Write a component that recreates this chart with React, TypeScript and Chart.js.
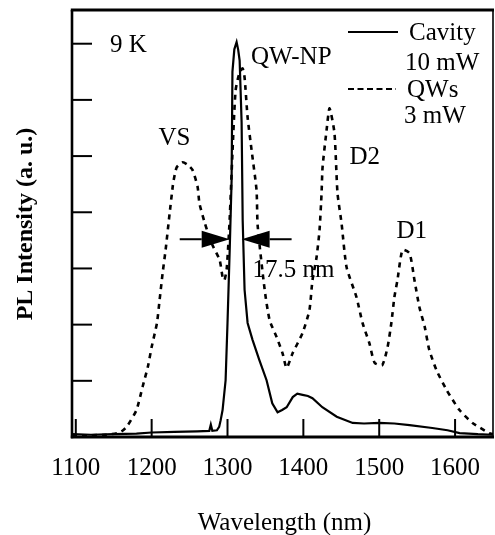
import React, { useEffect, useRef } from "react";
import { Chart, registerables } from "chart.js";

Chart.register(...registerables);

// ---- data (wavelength in nm, PL intensity in arbitrary units) ----
const cavityWavelength = [
  1095, 1120, 1150, 1180, 1200, 1230, 1260, 1276, 1278, 1280, 1286, 1289, 1291,
  1293.5, 1297.5, 1300, 1303, 1305.4, 1306.5, 1309, 1312, 1314, 1316, 1318.6,
  1320, 1322.5, 1326.5, 1333, 1342, 1351.5, 1359, 1366, 1372, 1378, 1386, 1392,
  1399, 1406, 1412, 1425, 1444, 1465, 1480, 1500, 1520, 1540, 1570, 1590, 1606,
  1630, 1649,
];
const cavityPL = [
  5, 4, 5, 6, 8, 9, 10, 11, 22, 11, 12, 18, 30,
  48, 101, 203, 338, 457, 650, 690, 703, 690, 670, 560,
  386, 262, 203, 173, 137, 101, 60, 44, 48, 53, 71, 77,
  75, 73, 69, 53, 36, 25, 24, 25, 24, 21, 16, 12, 7,
  5, 4,
];

const qwWavelength = [
  1095, 1120, 1140, 1158, 1167, 1180, 1188, 1195, 1200, 1207, 1210.5, 1214.5,
  1218.4, 1223.7, 1227.7, 1229, 1233, 1241, 1248, 1254, 1260.6, 1263, 1270, 1279,
  1289.6, 1293.5, 1296, 1299, 1302.8, 1306.7, 1310.7, 1315.9, 1319.9, 1322.5,
  1326.5, 1331.7, 1338.3, 1339.7, 1349, 1355.5, 1364.7, 1372.6, 1377.9, 1385.8,
  1398.9, 1408, 1412, 1417.4, 1421.3, 1424, 1425.3, 1430.6, 1434.5, 1441, 1445,
  1450.3, 1457, 1470, 1478, 1487, 1494, 1504, 1511, 1516, 1520, 1524, 1530.7,
  1540, 1546.5, 1553, 1560, 1566, 1575.5, 1588.7, 1605.8, 1623, 1645, 1650,
];
const qwPL = [
  2, 3, 4, 8, 18, 48, 89, 125, 160, 203, 244, 292,
  333, 398, 445, 457, 480, 489, 484, 475, 445, 416, 381, 345,
  315, 285, 279, 300, 386, 511, 617, 649, 656, 640,
  569, 511, 439, 377, 262, 208, 178, 149, 123, 149,
  185, 226, 279, 320, 368, 434, 480, 546, 585, 541, 434,
  381, 302, 249, 203, 167, 132, 128, 160, 203, 249, 279, 333,
  327, 279, 231, 196, 155, 119, 84, 48, 25, 7, 5,
];

const xTickValues = [1100, 1200, 1300, 1400, 1500, 1600];
const yTickValues = [100, 200, 300, 400, 500, 600, 700];
const xMin = 1095;
const xMax = 1650;
const yMin = 0;
const yMax = 760;

// annotation labels: [text, wavelength, intensity, align]
const peakLabels: [string, number, number, CanvasTextAlign][] = [
  ["9 K", 1145, 697, "left"],
  ["QW-NP", 1331, 676, "left"],
  ["VS", 1230, 532, "center"],
  ["D2", 1481, 498, "center"],
  ["D1", 1543, 365, "center"],
  ["17.5 nm", 1333, 297, "left"],
];
// FWHM arrows: [line start, tip, base] in nm, at intensity level
const fwhmLevel = 352;
const fwhmLeft = [1237, 1302.8, 1266];
const fwhmRight = [1384.5, 1318.6, 1355.5];

const legendItems = ["Cavity", "10 mW", "QWs", "3 mW"];

const SERIF = '"Liberation Serif", "Times New Roman", serif';

const overlay = {
  id: "overlay",
  afterDraw(chart: any) {
    const { ctx, chartArea: a, scales } = chart;
    const x = scales.x;
    const y = scales.y;
    ctx.save();
    ctx.strokeStyle = "#000";
    ctx.fillStyle = "#000";
    ctx.lineCap = "butt";

    // frame
    const seg = (x1: number, y1: number, x2: number, y2: number, w: number) => {
      ctx.beginPath();
      ctx.lineWidth = w;
      ctx.moveTo(x1, y1);
      ctx.lineTo(x2, y2);
      ctx.stroke();
    };
    seg(a.left - 1.2, a.top, a.right + 1, a.top, 2.8);
    seg(a.left, a.top, a.left, a.bottom + 1.2, 2.6);
    seg(a.left - 1.2, a.bottom, a.right + 1, a.bottom, 2.8);
    seg(a.right, a.top, a.right, a.bottom, 1.6);

    // x ticks (inward) and labels
    ctx.font = `25px ${SERIF}`;
    ctx.textAlign = "center";
    ctx.textBaseline = "middle";
    xTickValues.forEach((v) => {
      const px = x.getPixelForValue(v);
      seg(px, a.bottom, px, a.bottom - 18, 2);
      ctx.fillText(String(v), px, a.bottom + 31);
    });
    // y ticks (inward)
    yTickValues.forEach((v) => {
      const py = y.getPixelForValue(v);
      seg(a.left, py, a.left + 20, py, 2);
    });

    // axis titles
    ctx.fillText("Wavelength (nm)", (a.left + a.right) / 2 + 2, a.bottom + 86);
    ctx.save();
    ctx.translate(26, (a.top + a.bottom) / 2 + 0);
    ctx.translate(0, 224 - (a.top + a.bottom) / 2);
    ctx.rotate(-Math.PI / 2);
    ctx.font = `bold 24px ${SERIF}`;
    ctx.fillText("PL Intensity (a. u.)", 0, 0);
    ctx.restore();

    // peak labels
    ctx.font = `25px ${SERIF}`;
    peakLabels.forEach(([t, wx, wy, al]) => {
      ctx.textAlign = al;
      ctx.fillText(t, x.getPixelForValue(wx), y.getPixelForValue(wy));
    });

    // FWHM arrows
    const py = y.getPixelForValue(fwhmLevel);
    [fwhmLeft, fwhmRight].forEach(([s, tip, base]) => {
      const ps = x.getPixelForValue(s);
      const pt = x.getPixelForValue(tip);
      const pb = x.getPixelForValue(base);
      seg(ps, py, pb, py, 2);
      ctx.beginPath();
      ctx.moveTo(pt, py);
      ctx.lineTo(pb, py - 8.5);
      ctx.lineTo(pb, py + 8.5);
      ctx.closePath();
      ctx.fill();
    });

    // legend
    const lx0 = a.left + 276;
    const lx1 = a.left + 326;
    const tx = a.left + 334;
    seg(lx0, a.top + 22, lx1, a.top + 22, 2);
    ctx.beginPath();
    ctx.setLineDash([6, 3.5]);
    ctx.lineWidth = 2;
    ctx.moveTo(lx0, a.top + 79);
    ctx.lineTo(lx1 - 2, a.top + 79);
    ctx.stroke();
    ctx.setLineDash([]);
    ctx.textAlign = "left";
    ctx.fillText(legendItems[0], tx + 3, a.top + 23);
    ctx.fillText(legendItems[1], tx - 1, a.top + 53);
    ctx.fillText(legendItems[2], tx + 1, a.top + 80);
    ctx.fillText(legendItems[3], tx - 2, a.top + 106);

    ctx.restore();
  },
};

export default function App() {
  const ref = useRef<HTMLCanvasElement | null>(null);
  useEffect(() => {
    document.body.style.margin = "0";
    const canvas = ref.current;
    if (!canvas) return;
    const chart = new Chart(canvas, {
      type: "line",
      data: {
        datasets: [
          {
            label: "Cavity 10 mW",
            data: cavityWavelength.map((w, i) => ({ x: w, y: cavityPL[i] })),
            borderColor: "#000",
            borderWidth: 2.2,
            pointRadius: 0,
            tension: 0,
            fill: false,
          },
          {
            label: "QWs 3 mW",
            data: qwWavelength.map((w, i) => ({ x: w, y: qwPL[i] })),
            borderColor: "#000",
            borderWidth: 2.6,
            borderDash: [5, 5],
            pointRadius: 0,
            tension: 0.2,
            fill: false,
          },
        ],
      },
      options: {
        responsive: false,
        animation: false,
        devicePixelRatio: 1,
        layout: { padding: { left: 72, right: 2, top: 10, bottom: 98 } },
        plugins: { legend: { display: false }, tooltip: { enabled: false } },
        scales: {
          x: { type: "linear", min: xMin, max: xMax, display: false },
          y: { type: "linear", min: yMin, max: yMax, display: false },
        },
      },
      plugins: [overlay],
    });
    return () => chart.destroy();
  }, []);
  return (
    <div style={{ width: 495, height: 535, background: "#fff" }}>
      <canvas ref={ref} width={495} height={535} style={{ display: "block" }} />
    </div>
  );
}
